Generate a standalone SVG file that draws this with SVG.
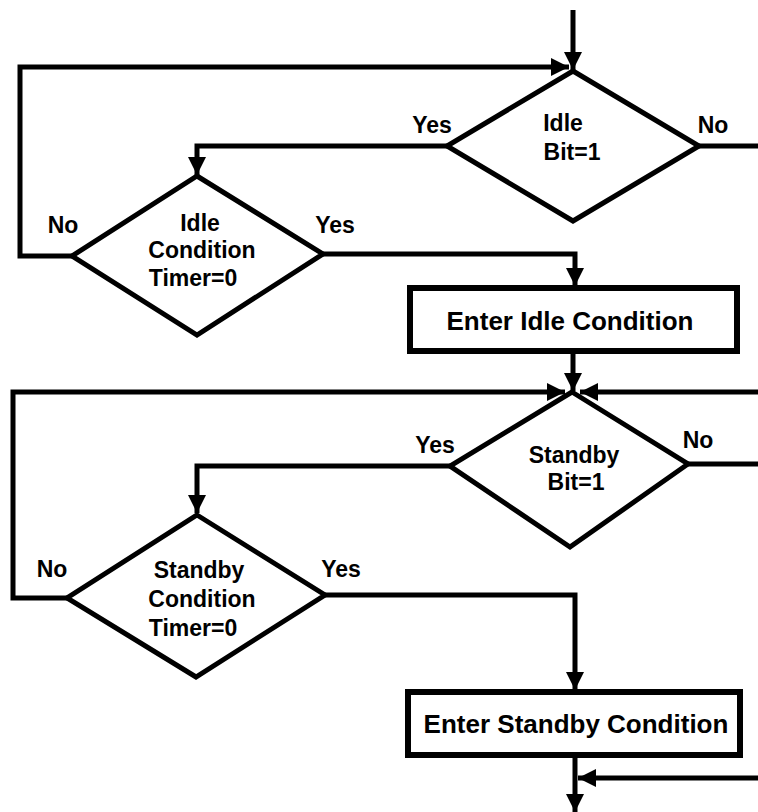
<svg xmlns="http://www.w3.org/2000/svg" width="758" height="812" viewBox="0 0 758 812">
<style>
.shape{fill:#fff;stroke:#000;stroke-width:5;stroke-linejoin:miter}
.box{fill:#fff;stroke:#000;stroke-width:6}
.conn{fill:none;stroke:#000;stroke-width:5;stroke-linejoin:miter}
text{font-family:"Liberation Sans",Arial,sans-serif;font-weight:bold;fill:#000}
.t{font-size:23px;text-anchor:middle}
.lbl{font-size:23px;text-anchor:middle}
.bt{font-size:26px;text-anchor:middle}
</style>
<defs>
<marker id="arr" viewBox="0 0 18 18" refX="18" refY="9" markerWidth="18" markerHeight="18" markerUnits="userSpaceOnUse" orient="auto">
<path d="M0,0 L18,9 L0,18 z" fill="#000"/>
</marker>
</defs>
<rect width="758" height="812" fill="#fff"/>
<g id="connectors">
<path class="conn" d="M573,10 L573,70" marker-end="url(#arr)"/>
<path class="conn" d="M72,256 L20,256 L20,67 L569,67" marker-end="url(#arr)"/>
<path class="conn" d="M447,146 L197,146 L197,175" marker-end="url(#arr)"/>
<path class="conn" d="M699,146 L758,146"/>
<path class="conn" d="M323,254 L575,254 L575,286" marker-end="url(#arr)"/>
<path class="conn" d="M573,352 L573,391" marker-end="url(#arr)"/>
<path class="conn" d="M758,392 L580,392" marker-end="url(#arr)"/>
<path class="conn" d="M67,598 L13,598 L13,392 L565,392" marker-end="url(#arr)"/>
<path class="conn" d="M450,466 L197,466 L197,513" marker-end="url(#arr)"/>
<path class="conn" d="M688,464 L758,464"/>
<path class="conn" d="M325,595 L575,595 L575,690" marker-end="url(#arr)"/>
<path class="conn" d="M575,755 L575,812" marker-end="url(#arr)"/>
<path class="conn" d="M758,778 L578,778" marker-end="url(#arr)"/>
</g>
<g id="d1">
<polygon class="shape" points="573,71 699,146 573,221 447,146"/>
<text class="t" x="563" y="131">Idle</text>
<text class="t" x="572" y="160">Bit=1</text>
</g>
<g id="d2">
<polygon class="shape" points="197,176 323,254 197,335 72,256"/>
<text class="t" x="200" y="231">Idle</text>
<text class="t" x="202" y="258">Condition</text>
<text class="t" x="193" y="286">Timer=0</text>
</g>
<g id="b1">
<rect class="box" x="410" y="288" width="327" height="63"/>
<text class="bt" x="570" y="330">Enter Idle Condition</text>
</g>
<g id="d3">
<polygon class="shape" points="572,392 688,464 570,547 450,466"/>
<text class="t" x="574" y="463">Standby</text>
<text class="t" x="576" y="490">Bit=1</text>
</g>
<g id="d4">
<polygon class="shape" points="197,515 325,595 196,677 67,598"/>
<text class="t" x="199" y="578">Standby</text>
<text class="t" x="202" y="607">Condition</text>
<text class="t" x="193" y="636">Timer=0</text>
</g>
<g id="b2">
<rect class="box" x="408" y="692" width="332" height="63"/>
<text class="bt" x="576" y="733">Enter Standby Condition</text>
</g>
<g id="labels">
<text class="lbl" x="432" y="133">Yes</text>
<text class="lbl" x="713" y="133">No</text>
<text class="lbl" x="63" y="233">No</text>
<text class="lbl" x="335" y="233">Yes</text>
<text class="lbl" x="435" y="453">Yes</text>
<text class="lbl" x="698" y="448">No</text>
<text class="lbl" x="52" y="577">No</text>
<text class="lbl" x="341" y="577">Yes</text>
</g>
</svg>
